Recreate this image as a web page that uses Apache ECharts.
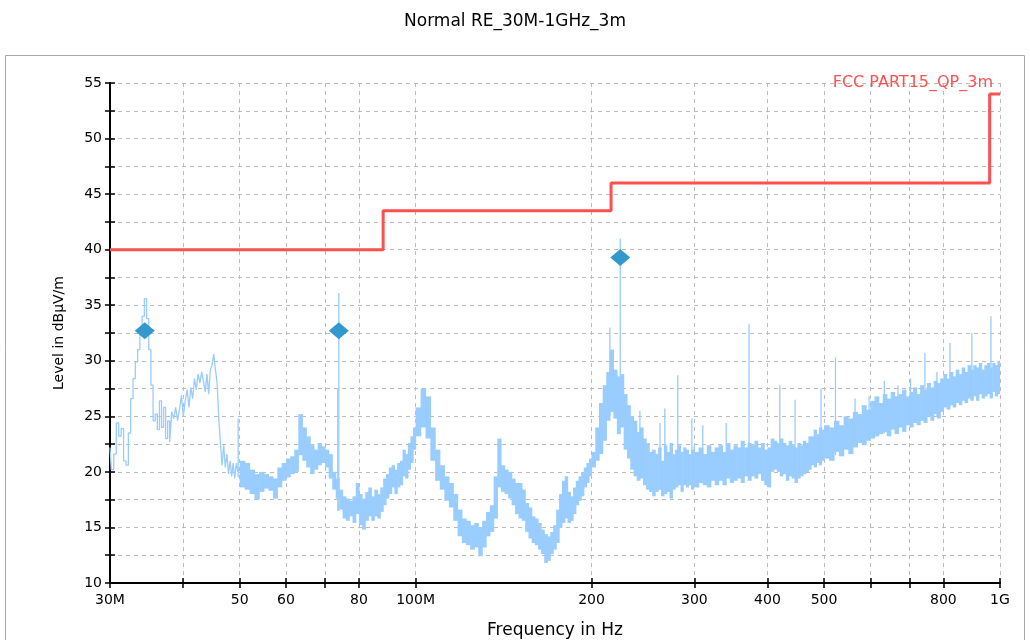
<!DOCTYPE html>
<html>
<head>
<meta charset="utf-8">
<title>Normal RE_30M-1GHz_3m</title>
<script src="https://cdn.jsdelivr.net/npm/echarts@6/dist/echarts.min.js"></script>
<style>
    html, body { margin: 0; padding: 0; background: #fff; }
    #chart { width: 1030px; height: 640px; }
</style>
</head>
<body>
<div id="chart"></div>
<script>
"use strict";

// ---- data (frequency in MHz, level in dBuV/m) ----

// 30 - 50 MHz: the trace is still a single thin line here
var lineFreq = [
    30.0, 30.3, 30.6, 30.9, 31.2, 31.5, 31.8, 32.1, 32.4, 32.7,
    33.0, 33.3, 33.6, 33.9, 34.2, 34.5, 34.8, 35.1, 35.4, 35.7,
    36.0, 36.3, 36.6, 36.9, 37.2, 37.5, 37.8, 38.1, 38.4, 38.7,
    39.0, 39.3, 39.6, 39.9, 40.2, 40.5, 40.8, 41.1, 41.4, 41.7,
    42.0, 42.3, 42.6, 42.9, 43.2, 43.5, 43.8, 44.1, 44.4, 44.7,
    45.0, 45.3, 45.6, 45.9, 46.2, 46.5, 46.8, 47.1, 47.4, 47.7,
    48.0, 48.3, 48.6, 48.9, 49.2, 49.5, 49.8, 50.0
];
var lineLevel = [
    22.2, 20.2, 21.6, 24.4, 23.2, 23.9, 21.0, 20.6, 23.5, 26.6,
    28.4, 29.9, 31.0, 32.6, 34.0, 35.6, 33.8, 31.0, 27.8, 24.6,
    25.2, 23.8, 26.4, 24.0, 25.8, 23.0, 24.6, 22.7, 25.4, 24.8,
    25.8, 24.6, 25.6, 26.9, 25.0, 26.4, 27.4, 25.8, 27.6, 26.6,
    28.4, 27.4, 28.8, 28.0, 29.0, 28.2, 27.2, 28.8, 27.0, 29.2,
    29.6, 30.6, 29.2, 28.0, 24.8, 22.6, 20.6, 22.4, 20.4, 21.6,
    19.8, 21.0, 19.6, 20.8, 19.4, 20.8, 20.0, 20.2
];

// 50 MHz - 1 GHz: noise band, top and bottom edge per sweep point
var bandFreq = [
    50, 51, 52, 53, 54, 55, 56, 57, 58, 59, 60, 61, 62, 63, 64, 65, 66, 67, 68, 69,
    70, 71, 72, 73, 74, 75, 76, 77, 78, 79, 80, 81, 82, 83, 84, 85, 86, 87, 88, 89,
    90, 91, 92, 93, 94, 95, 96, 97, 98, 99, 100,
    102, 104, 106, 108, 110, 112, 114, 116, 118, 120, 122, 124, 126, 128, 130, 132, 134, 136, 138, 140,
    142, 144, 146, 148, 150, 152, 154, 156, 158, 160, 162, 164, 166, 168, 170, 172, 174, 176, 178, 180,
    182, 184, 186, 188, 190, 192, 194, 196, 198, 200,
    203, 206, 209, 212, 215, 218, 221, 224, 227, 230, 233, 236, 239, 242, 245, 248, 251, 254, 257, 260,
    263, 266, 269, 272, 275, 278, 281, 284, 287, 290, 293, 296, 299,
    300, 305, 310, 315, 320, 325, 330, 335, 340, 345, 350, 355, 360, 365, 370, 375, 380, 385, 390, 395,
    400, 405, 410, 415, 420, 425, 430, 435, 440, 445, 450, 455, 460, 465, 470, 475, 480, 485, 490, 495, 500,
    510, 520, 530, 540, 550, 560, 570, 580, 590, 600, 610, 620, 630, 640, 650, 660, 670, 680, 690, 700,
    710, 720, 730, 740, 750, 760, 770, 780, 790, 800, 810, 820, 830, 840, 850, 860, 870, 880, 890, 900,
    910, 920, 930, 940, 950, 960, 970, 980, 990, 1000
];
var bandTop = [
    21.0, 20.8, 20.2, 19.8, 20.0, 19.8, 19.6, 19.4, 20.4, 20.8, 21.2, 21.4, 22.0, 25.2, 24.0, 23.2, 22.4, 22.0, 22.6, 22.3,
    22.0, 21.6, 20.0, 19.4, 18.4, 17.8, 17.6, 17.4, 17.8, 19.0, 18.0, 17.6, 18.2, 18.6, 17.8, 18.4, 18.0, 18.6, 19.4, 19.8,
    20.4, 20.6, 20.2, 20.8, 21.0, 22.0, 21.6, 22.6, 23.2, 24.0, 25.8,
    27.5, 26.8, 24.0, 22.0, 20.6, 19.6, 19.0, 18.0, 16.6, 15.8, 15.6, 15.2, 15.4, 15.0, 15.6, 16.4, 17.0, 19.6, 23.0, 20.6,
    20.2, 20.0, 19.4, 19.0, 19.0, 18.4, 17.2, 16.8, 16.0, 15.8, 15.4, 14.8, 14.4, 14.2, 14.6, 15.2, 16.6, 18.0, 19.2, 19.6,
    18.2, 17.8, 18.6, 19.2, 19.6, 20.0, 20.4, 20.8, 21.2, 21.8,
    24.0, 26.2, 27.8, 29.0, 31.0, 29.2, 28.6, 28.8, 27.0, 26.0, 25.0, 24.6, 23.6, 24.0, 23.0, 22.6, 21.8, 22.0, 21.6, 22.2,
    21.0, 22.4, 21.8, 22.6, 21.6, 22.0, 22.4, 21.8, 22.2, 22.0, 21.6, 22.0, 22.4,
    21.8, 22.2, 21.6, 22.4, 21.8, 22.2, 22.4, 21.8, 22.6, 22.0, 22.4, 22.2, 22.8, 22.2, 22.6, 22.4, 22.8, 22.2, 22.6, 22.0,
    22.2, 23.0, 22.8, 22.6, 23.0, 22.6, 22.4, 22.8, 22.4, 22.2, 22.6, 22.4, 22.8, 22.6, 23.2, 23.2, 23.8, 23.4, 24.0, 23.8, 24.2,
    24.0, 24.6, 24.2, 25.0, 24.8, 25.4, 25.2, 26.0, 25.6, 26.4, 26.8, 26.2, 27.0, 26.6, 27.2, 26.8, 27.0, 27.4, 26.8, 27.2,
    27.6, 27.0, 27.8, 27.4, 28.0, 27.6, 28.2, 28.0, 28.4, 28.8, 28.4, 29.0, 28.6, 29.2, 28.8, 29.4, 29.0, 29.6, 29.2, 29.6,
    29.4, 29.8, 29.2, 29.6, 29.8, 29.4, 29.8, 29.6, 30.0, 29.6
];
var bandBottom = [
    18.6, 18.4, 18.0, 17.5, 18.2, 18.5, 18.3, 17.6, 18.6, 19.2, 19.5, 19.8, 20.0, 21.5, 21.0, 20.4, 19.8, 20.2, 20.6, 20.8,
    20.4, 19.4, 18.4, 17.6, 16.6, 15.8, 15.6, 16.0, 15.4, 16.2, 15.2, 14.8, 15.6, 16.0, 15.6, 16.0, 15.8, 16.4, 17.0, 17.6,
    18.0, 18.6, 18.0, 18.6, 18.8, 19.6, 19.4, 20.2, 20.8, 22.0, 23.2,
    24.0, 23.0, 21.0, 19.2, 18.4, 17.4, 16.8, 15.6, 14.2, 13.6, 13.4, 13.0, 13.2, 12.4, 13.2, 14.2, 14.6, 15.8, 18.6, 18.2,
    18.0, 17.6, 17.0, 16.2, 15.8, 15.6, 14.6, 14.0, 13.6, 13.4, 13.0, 12.6, 11.8, 12.0, 12.6, 13.0, 13.6, 15.0, 15.4, 15.8,
    15.4, 15.6, 16.2, 17.0, 17.4, 17.8, 18.6, 19.0, 19.6, 20.4,
    21.0, 21.6, 22.8, 24.6, 25.4, 24.8, 23.4, 24.0, 22.0, 21.2, 20.2, 19.6, 19.2, 19.4, 18.8, 18.4, 18.2, 17.8, 18.2, 18.4,
    17.8, 18.0, 18.2, 17.6, 18.4, 18.6, 18.8, 18.2, 18.8, 18.6, 18.8, 18.4, 18.6,
    18.6, 19.0, 18.8, 18.6, 19.2, 18.8, 19.2, 18.8, 19.4, 19.0, 19.2, 19.4, 19.0, 19.6, 19.2, 19.6, 19.4, 19.8, 19.2, 18.8,
    18.6, 20.0, 20.2, 20.0, 19.6, 19.8, 19.2, 19.6, 19.4, 19.0, 19.4, 19.6, 19.8, 20.0, 20.2, 20.6, 20.4, 20.8, 20.6, 21.0, 21.2,
    21.0, 21.8, 21.4, 22.0, 21.6, 22.2, 22.6, 22.4, 22.8, 23.0, 23.2, 23.4, 23.6, 23.2, 23.8, 23.4, 24.0, 23.6, 24.2, 24.0,
    24.4, 24.2, 24.6, 24.4, 25.0, 24.6, 25.2, 24.8, 25.4, 25.8, 25.6, 26.0, 25.8, 26.2, 26.0, 26.4, 26.2, 26.6, 26.4, 26.8,
    26.4, 27.0, 26.6, 26.8, 27.0, 26.6, 27.2, 26.8, 27.0, 27.0
];

// narrow single spikes sticking out of the band
var spikeFreq = [49.7, 73.6, 73.9, 215, 224, 242, 262, 267, 281, 297, 310, 340, 372, 420, 446,
                 494, 523, 565, 597, 634, 669, 703, 744, 780, 821, 895, 965];
var spikeTop  = [24.8, 27.5, 36.1, 33.0, 41.0, 25.5, 24.4, 25.7, 28.7, 24.8, 24.2, 24.4, 33.3, 27.8, 26.5,
                 27.5, 30.3, 26.6, 26.8, 28.2, 27.8, 28.4, 30.7, 29.0, 31.6, 32.5, 34.0];
var spikeBase = [19.5, 16.5, 16.5, 25.0, 24.0, 19.4, 18.4, 18.2, 19.0, 19.0, 19.0, 19.4, 20.0, 20.0, 19.5,
                 21.0, 21.5, 22.4, 23.0, 23.5, 23.6, 24.0, 24.5, 25.0, 25.8, 26.6, 26.8];

// final measurement markers
var markerFreq = [34.4, 73.9, 224];
var markerLevel = [32.7, 32.7, 39.3];

// FCC part 15 QP limit at 3 m
var limitFreq = [30, 88, 88, 216, 216, 960, 960, 1000];
var limitLevel = [40, 40, 43.5, 43.5, 46, 46, 54, 54];

// axis ticks and labels
var xTickValues = [30, 40, 50, 60, 70, 80, 100, 200, 300, 400, 500, 600, 700, 800, 1000];
var xLabelValues = [30, 50, 60, 80, 100, 200, 300, 400, 500, 800, 1000];
var xLabelText = ["30M", "50", "60", "80", "100M", "200", "300", "400", "500", "800", "1G"];

// ---- chart ----

var FONT = "DejaVu Sans";
var TRACE = "#99ccff";
var LIMIT = "#ff5050";
var GRIDLINE = {show: true, lineStyle: {color: "#bcbcbc", width: 1, type: [4, 4]}};

var chart = echarts.init(document.getElementById("chart"));

function xLabel(value) {
    for (var i = 0; i < xLabelValues.length; i++) {
        if (Math.abs(xLabelValues[i] - value) < 1e-6 * value) return xLabelText[i];
    }
    return "";
}

// one step of the band: from this sweep point to the next one,
// stretched vertically so that it always joins the next step
function renderBand(params, api) {
    var i = params.dataIndex;
    if (i >= bandFreq.length - 1) return null;
    var lo = Math.min(bandBottom[i], bandTop[i + 1]);
    var hi = Math.max(bandTop[i], bandBottom[i + 1]);
    var p0 = api.coord([bandFreq[i], hi]);
    var p1 = api.coord([bandFreq[i + 1], lo]);
    return {
        type: "rect",
        shape: {x: p0[0], y: p0[1], width: p1[0] - p0[0] + 0.6, height: p1[1] - p0[1]},
        style: {fill: TRACE}
    };
}

function renderSpike(params, api) {
    var a = api.coord([api.value(0), api.value(1)]);
    var b = api.coord([api.value(0), api.value(2)]);
    return {
        type: "line",
        shape: {x1: a[0], y1: a[1], x2: b[0], y2: b[1]},
        style: {stroke: TRACE, lineWidth: 1.3}
    };
}

var option = {
    animation: false,
    backgroundColor: "#ffffff",
    title: {
        text: "Normal RE_30M-1GHz_3m",
        left: "center",
        top: 8,
        textStyle: {fontFamily: FONT, fontSize: 17, fontWeight: "normal", color: "#000"}
    },
    grid: {left: 110, right: 30, top: 83, bottom: 57, containLabel: false, outerBoundsMode: "none"},
    xAxis: [
        {
            type: "log",
            logBase: 10,
            min: 30,
            max: 1000,
            name: "Frequency in Hz",
            nameLocation: "middle",
            nameGap: 39,
            nameTextStyle: {fontFamily: FONT, fontSize: 17, color: "#000"},
            axisLine: {onZero: false, lineStyle: {color: "#000", width: 2}},
            axisTick: {customValues: xTickValues, length: 5, lineStyle: {color: "#000", width: 1.5}},
            axisLabel: {customValues: xLabelValues, formatter: xLabel, margin: 10,
                        fontFamily: FONT, fontSize: 14, color: "#000"},
            splitLine: GRIDLINE
        },
        {
            // second copy only for the inner half of the ticks
            type: "log",
            logBase: 10,
            min: 30,
            max: 1000,
            position: "bottom",
            axisLine: {show: false},
            axisTick: {customValues: xTickValues, inside: true, length: 5, lineStyle: {color: "#000", width: 1.5}},
            axisLabel: {show: false},
            splitLine: {show: false}
        }
    ],
    yAxis: [
        {
            type: "value",
            min: 10,
            max: 55,
            interval: 2.5,
            name: "Level in dBμV/m",
            nameLocation: "middle",
            nameGap: 44,
            nameTextStyle: {fontFamily: FONT, fontSize: 14, color: "#000"},
            axisLine: {show: true, lineStyle: {color: "#000", width: 2}},
            axisTick: {show: true, length: 5, lineStyle: {color: "#000", width: 1.5}},
            axisLabel: {
                margin: 8, fontFamily: FONT, fontSize: 14, color: "#000",
                formatter: function (v) { return v % 5 === 0 ? String(v) : ""; }
            },
            splitLine: GRIDLINE
        },
        {
            type: "value",
            min: 10,
            max: 55,
            interval: 2.5,
            position: "left",
            axisLine: {show: false},
            axisTick: {show: true, inside: true, length: 5, lineStyle: {color: "#000", width: 1.5}},
            axisLabel: {show: false},
            splitLine: {show: false}
        }
    ],
    graphic: [
        {
            type: "rect",
            shape: {x: 5.5, y: 55.5, width: 1019, height: 620},
            style: {fill: null, stroke: "#a8a8a8", lineWidth: 1},
            silent: true
        },
        {
            type: "text",
            right: 37,
            top: 75,
            style: {text: "FCC PART15_QP_3m", fill: LIMIT, font: "16px 'DejaVu Sans'"},
            z: 10
        }
    ],
    series: [
        {
            name: "trace 30-50 MHz",
            type: "line",
            step: "middle",
            symbol: "none",
            lineStyle: {color: TRACE, width: 1.3},
            data: lineFreq.map(function (f, i) { return [f, lineLevel[i]]; }),
            z: 2
        },
        {
            name: "trace band",
            type: "custom",
            renderItem: renderBand,
            clip: true,
            encode: {x: 0, y: [1, 2]},
            data: bandFreq.map(function (f, i) { return [f, bandBottom[i], bandTop[i]]; }),
            z: 2
        },
        {
            name: "spikes",
            type: "custom",
            renderItem: renderSpike,
            clip: true,
            encode: {x: 0, y: [1, 2]},
            data: spikeFreq.map(function (f, i) { return [f, spikeBase[i], spikeTop[i]]; }),
            z: 2
        },
        {
            name: "FCC PART15_QP_3m",
            type: "line",
            symbol: "none",
            lineStyle: {color: LIMIT, width: 3},
            data: limitFreq.map(function (f, i) { return [f, limitLevel[i]]; }),
            z: 3
        },
        {
            name: "markers",
            type: "scatter",
            symbol: "diamond",
            symbolSize: [20, 17],
            itemStyle: {color: "#3399cc", opacity: 1},
            data: markerFreq.map(function (f, i) { return [f, markerLevel[i]]; }),
            z: 4
        }
    ]
};

chart.setOption(option);
</script>
</body>
</html>
